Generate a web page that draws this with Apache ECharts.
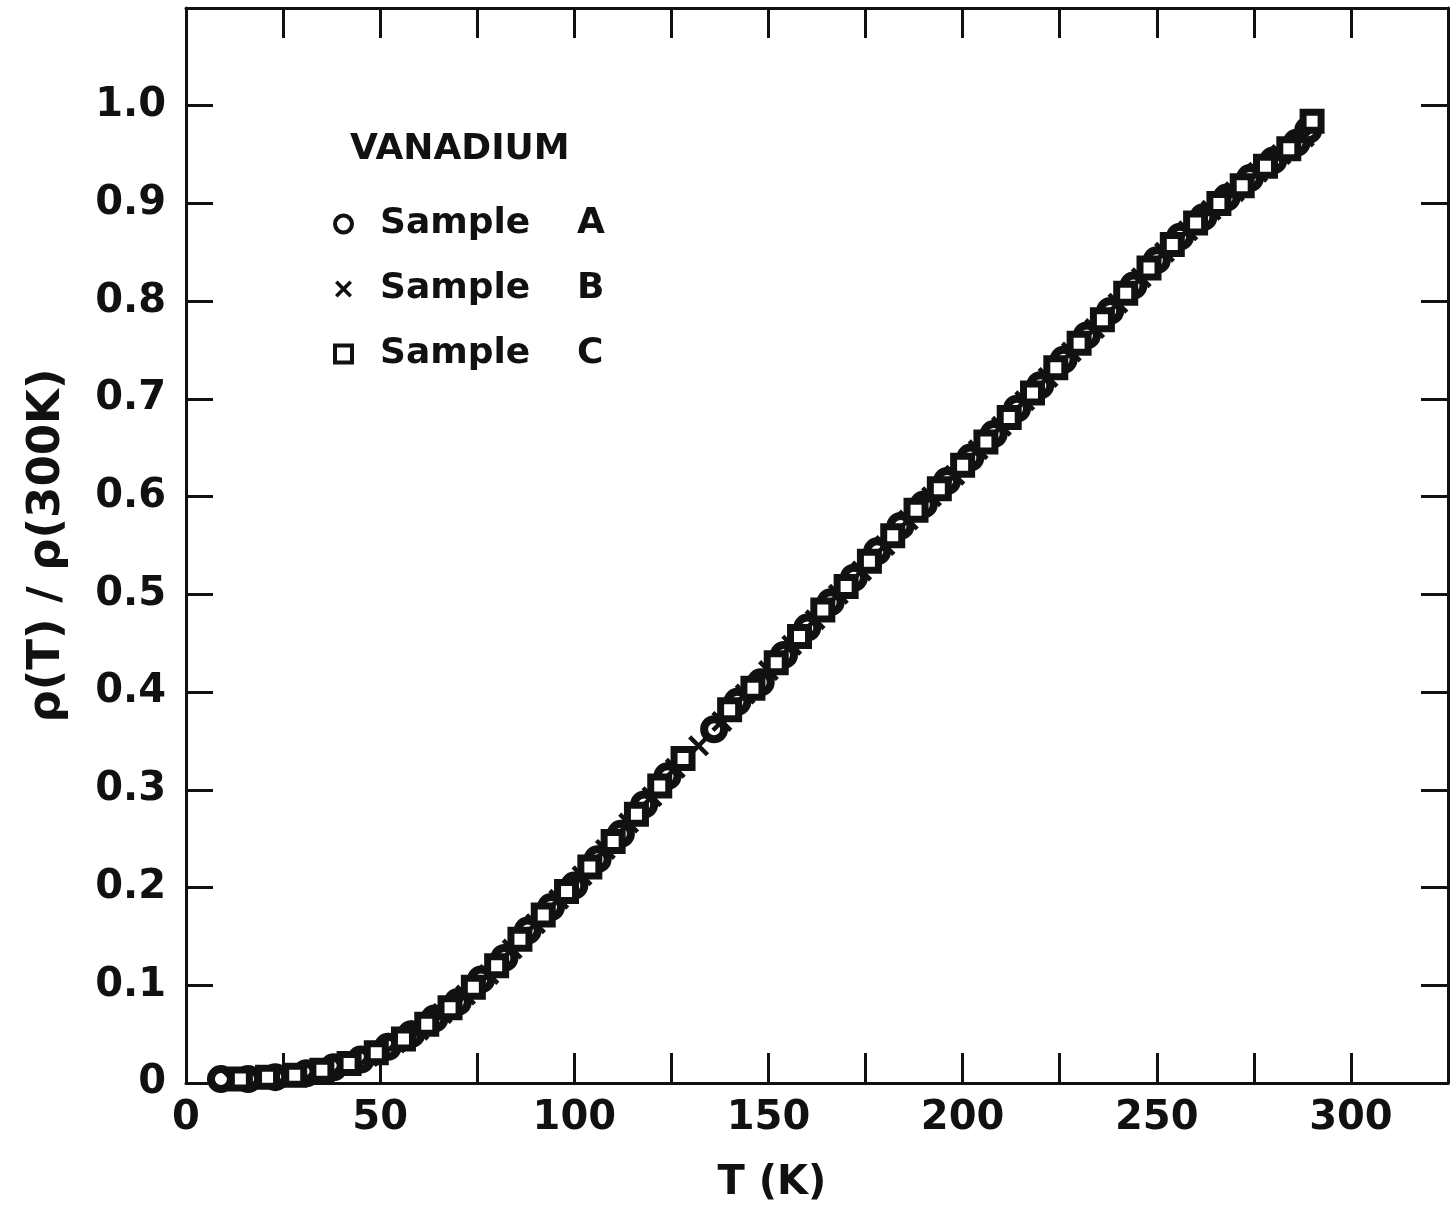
<!DOCTYPE html>
<html>
<head>
<meta charset="utf-8">
<script src="https://cdn.jsdelivr.net/npm/echarts@6/dist/echarts.min.js"></script>
<style>
  html, body { margin: 0; padding: 0; background: #fff; }
  #chart { width: 1452px; height: 1212px; }
</style>
</head>
<body>
<div id="chart"></div>
<script>
// ---- Data ----
const chartTitle = 'VANADIUM';
const xAxisName = 'T (K)';
const yAxisName = 'ρ(T) / ρ(300K)';
const xTicks = [0, 50, 100, 150, 200, 250, 300];
const yTicks = [0, 0.1, 0.2, 0.3, 0.4, 0.5, 0.6, 0.7, 0.8, 0.9, 1.0];
const seriesNames = ['Sample A', 'Sample B', 'Sample C'];

const sampleA = [
  [9,0.004],[16,0.004],[23,0.006],[31,0.010],[38,0.016],[45,0.024],[52,0.037],[58,0.050],
  [64,0.066],[70,0.083],[76,0.106],[82,0.128],[88,0.156],[94,0.180],[100,0.202],[106,0.229],
  [112,0.255],[118,0.285],[124,0.314],[136,0.362],[142,0.390],[148,0.410],[154,0.438],[160,0.466],
  [166,0.492],[172,0.517],[178,0.544],[184,0.570],[190,0.592],[196,0.616],[202,0.640],[208,0.664],
  [214,0.690],[220,0.714],[226,0.740],[232,0.765],[238,0.790],[244,0.816],[250,0.842],[256,0.866],
  [262,0.886],[268,0.906],[274,0.926],[280,0.944],[286,0.962],[289,0.975]
];
const sampleB = [
  [12,0.003],[19,0.005],[26,0.008],[33,0.012],[40,0.018],[47,0.027],[54,0.041],[60,0.054],
  [66,0.071],[72,0.090],[78,0.111],[84,0.137],[90,0.163],[96,0.188],[102,0.212],[108,0.239],
  [114,0.266],[120,0.293],[126,0.322],[132,0.345],[138,0.370],[144,0.398],[150,0.422],[156,0.448],
  [162,0.474],[168,0.500],[174,0.524],[180,0.550],[186,0.576],[192,0.600],[198,0.622],[204,0.648],
  [210,0.672],[216,0.698],[222,0.722],[228,0.748],[234,0.772],[240,0.798],[246,0.824],[252,0.850],
  [258,0.872],[264,0.893],[270,0.912],[276,0.932],[282,0.950],[288,0.968]
];
const sampleC = [
  [14,0.004],[21,0.006],[28,0.008],[35,0.013],[42,0.020],[49,0.031],[56,0.045],[62,0.060],
  [68,0.077],[74,0.098],[80,0.120],[86,0.147],[92,0.172],[98,0.196],[104,0.221],[110,0.247],
  [116,0.275],[122,0.304],[128,0.332],[140,0.382],[146,0.404],[152,0.430],[158,0.457],[164,0.484],
  [170,0.508],[176,0.534],[182,0.560],[188,0.586],[194,0.608],[200,0.632],[206,0.656],[212,0.681],
  [218,0.706],[224,0.732],[230,0.757],[236,0.781],[242,0.808],[248,0.834],[254,0.858],[260,0.880],
  [266,0.900],[272,0.918],[278,0.938],[284,0.956],[290,0.984]
];

// ---- Chart ----
const FONT = 'DejaVu Sans';
const INK = '#111';
const crossPath = 'path://M0,3 L3,0 L10,7 L17,0 L20,3 L13,10 L20,17 L17,20 L10,13 L3,20 L0,17 L7,10 Z';

const xLabelFmt = v => (xTicks.indexOf(v) >= 0 ? String(v) : '');
const yLabelFmt = v => {
  const r = Math.round(v * 10) / 10;
  if (!yTicks.some(t => Math.abs(t - r) < 1e-9)) return '';
  return r === 0 ? '0' : r.toFixed(1);
};

const mkLine = () => ({ show: true, onZero: false, lineStyle: { color: INK, width: 3 } });
const mkXTick = () => ({ show: true, inside: true, length: 30, lineStyle: { color: INK, width: 3 } });
const mkYTick = () => ({ show: true, inside: true, length: 27, lineStyle: { color: INK, width: 3 } });

const chart = echarts.init(document.getElementById('chart'), null, { renderer: 'canvas' });
chart.setOption({
  backgroundColor: '#fff',
  animation: false,
  title: {
    text: chartTitle,
    left: 345, top: 127,
    textStyle: { fontFamily: FONT, fontSize: 36, fontWeight: 'bold', color: INK }
  },
  legend: {
    orient: 'vertical',
    left: 328, top: 201,
    itemWidth: 17, itemHeight: 17,
    itemGap: 29,
    data: [
      { name: seriesNames[0], icon: 'circle', itemStyle: { color: '#fff', borderColor: INK, borderWidth: 4 } },
      { name: seriesNames[1], icon: crossPath, itemStyle: { color: INK, borderWidth: 0 } },
      { name: seriesNames[2], icon: 'rect', itemStyle: { color: '#fff', borderColor: INK, borderWidth: 4 } }
    ],
    formatter: n => '{s|Sample}{l|' + n.slice(-1) + '}',
    textStyle: {
      fontFamily: FONT, color: INK, fontSize: 36, fontWeight: 'bold',
      rich: {
        s: { fontFamily: FONT, fontSize: 36, fontWeight: 'bold', color: INK, width: 197, padding: [0, 0, 0, 23] },
        l: { fontFamily: FONT, fontSize: 36, fontWeight: 'bold', color: INK }
      }
    }
  },
  grid: { left: 186, top: 8, width: 1262, height: 1075, containLabel: false },
  xAxis: [
    {
      type: 'value', position: 'bottom', min: 0, max: 325, interval: 25,
      name: xAxisName, nameLocation: 'middle', nameGap: 81,
      nameTextStyle: { fontFamily: FONT, fontSize: 40, fontWeight: 'bold', color: INK, padding: [0, 90, 0, 0] },
      axisLine: mkLine(), axisTick: mkXTick(),
      axisLabel: { formatter: xLabelFmt, fontFamily: FONT, fontSize: 40, fontWeight: 'bold', color: INK, margin: 16 },
      splitLine: { show: false }
    },
    {
      type: 'value', position: 'top', min: 0, max: 325, interval: 25,
      axisLine: mkLine(), axisTick: mkXTick(), axisLabel: { show: false }, splitLine: { show: false }
    }
  ],
  yAxis: [
    {
      type: 'value', position: 'left', min: 0, max: 1.1, interval: 0.1,
      name: yAxisName, nameLocation: 'middle', nameGap: 116, nameRotate: 90,
      nameTextStyle: { fontFamily: FONT, fontSize: 45, fontWeight: 'bold', color: INK },
      axisLine: mkLine(), axisTick: mkYTick(),
      axisLabel: { formatter: yLabelFmt, fontFamily: FONT, fontSize: 40, fontWeight: 'bold', color: INK, margin: 20 },
      splitLine: { show: false }
    },
    {
      type: 'value', position: 'right', min: 0, max: 1.1, interval: 0.1,
      axisLine: mkLine(), axisTick: mkYTick(), axisLabel: { show: false }, splitLine: { show: false }
    }
  ],
  series: [
    {
      name: seriesNames[0], type: 'scatter', data: sampleA,
      symbol: 'circle', symbolSize: 20,
      itemStyle: { color: '#fff', borderColor: INK, borderWidth: 8, opacity: 1 }
    },
    {
      name: seriesNames[1], type: 'scatter', data: sampleB,
      symbol: crossPath, symbolSize: 21,
      itemStyle: { color: INK, opacity: 1 }
    },
    {
      name: seriesNames[2], type: 'scatter', data: sampleC,
      symbol: 'rect', symbolSize: 18,
      itemStyle: { color: '#fff', borderColor: INK, borderWidth: 7, opacity: 1 }
    }
  ]
});
</script>
</body>
</html>
